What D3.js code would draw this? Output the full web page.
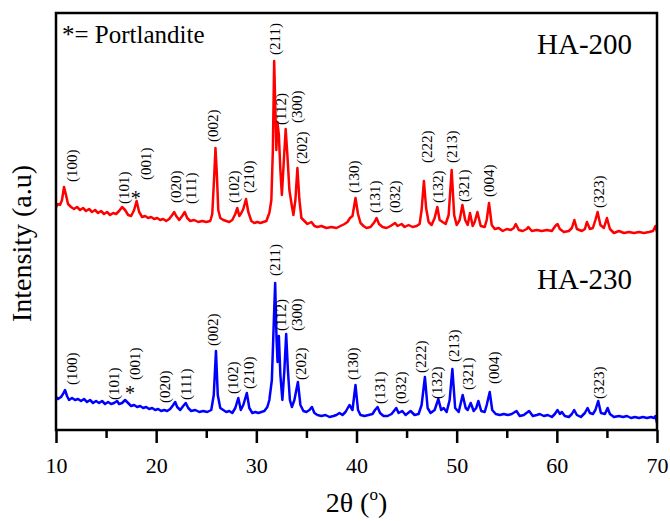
<!DOCTYPE html>
<html>
<head>
<meta charset="utf-8">
<script src="https://cdn.jsdelivr.net/npm/d3@7"></script>
<style>
  html, body { margin: 0; padding: 0; background: #fff; }
  svg { display: block; }
  text { font-family: "Liberation Serif", "Times New Roman", serif; fill: #000; }
</style>
</head>
<body>
<svg id="chart" width="670" height="521"></svg>
<script>
// ---------- data (2θ in degrees, intensity in a.u. on a common stacked scale) ----------
const redSeriesName = "HA-200";
const blueSeriesName = "HA-230";

const redData = [
  [10.0,223],[10.2,226],[10.4,225],[10.6,230],[10.8,243],[11.0,235],[11.2,226],[11.5,223],[11.8,221],
  [12.1,223],[12.4,220],[12.7,222],[13.0,219],[13.3,221],[13.6,218],[13.9,220],[14.2,217],[14.5,219],
  [14.8,216],[15.1,218],[15.4,215],[15.7,217],[16.0,216],[16.3,219],[16.6,223],[16.9,220],[17.2,215],
  [17.5,214],[17.8,220],[18.05,229],[18.3,218],[18.6,213],[18.9,214],[19.2,212],[19.5,213],[19.8,211],
  [20.1,212],[20.4,210],[20.7,211],[21.0,209],[21.3,211],[21.6,215],[21.8,218],[22.0,214],[22.3,210],
  [22.6,214],[22.85,218],[23.1,212],[23.4,209],[23.8,210],[24.2,208],[24.6,209],[25.0,208],[25.4,209],
  [25.6,216],[25.8,255],[25.92,282],[26.05,258],[26.2,220],[26.4,212],[26.7,210],[27.0,209],[27.3,208],
  [27.6,210],[27.9,216],[28.1,222],[28.3,214],[28.5,217],[28.7,221],[28.97,231],[29.2,218],[29.5,209],
  [29.8,207],[30.1,208],[30.4,207],[30.7,208],[31.0,209],[31.3,217],[31.5,230],[31.65,280],[31.78,369],
  [31.9,320],[32.0,280],[32.1,308],[32.25,295],[32.4,260],[32.55,235],[32.75,270],[32.93,301],[33.1,275],
  [33.3,240],[33.5,227],[33.7,215],[33.9,230],[34.1,262],[34.3,230],[34.5,212],[34.8,209],[35.1,206],
  [35.5,208],[35.8,204],[36.1,203],[36.5,204],[37.0,202],[37.5,203],[38.0,202],[38.4,204],[38.8,206],
  [39.1,208],[39.35,212],[39.6,214],[39.9,232],[40.15,216],[40.4,207],[40.7,204],[41.0,202],[41.4,203],
  [41.8,208],[42.0,212],[42.25,206],[42.6,203],[43.0,202],[43.4,204],[43.85,207],[44.1,204],[44.5,206],
  [44.8,203],[45.2,205],[45.6,203],[46.0,204],[46.3,206],[46.5,220],[46.73,249],[46.95,222],[47.2,208],
  [47.5,205],[47.8,212],[48.07,223],[48.3,210],[48.6,208],[48.9,206],[49.2,215],[49.5,260],[49.75,215],
  [50.0,205],[50.3,210],[50.57,225],[50.85,210],[51.1,205],[51.33,217],[51.6,204],[51.8,208],[52.07,218],
  [52.4,204],[52.8,203],[53.0,210],[53.23,227],[53.5,205],[53.8,201],[54.2,202],[54.6,199],[55.0,201],
  [55.4,200],[55.7,202],[55.9,206],[56.2,200],[56.6,199],[57.0,201],[57.15,203],[57.5,199],[58.0,200],
  [58.5,199],[59.0,200],[59.5,199],[59.85,204],[60.07,206],[60.3,201],[60.7,198],[61.2,199],[61.5,202],
  [61.75,210],[62.0,201],[62.5,199],[62.8,201],[63.0,208],[63.3,201],[63.6,202],[63.85,210],[64.07,218],
  [64.35,205],[64.7,202],[65.0,212],[65.3,201],[65.7,197],[66.2,199],[66.7,197],[67.2,198],[67.7,197],
  [68.2,198],[68.7,197],[69.2,198],[69.6,199],[69.85,204],[70.0,198]
];

const blueData = [
  [10.0,33],[10.2,31],[10.5,33],[10.7,36],[10.9,40],[11.1,34],[11.3,30],[11.6,32],[11.9,30],[12.2,31],
  [12.5,29],[12.8,31],[13.1,28],[13.4,30],[13.7,27],[14.0,29],[14.3,27],[14.6,29],[14.9,26],[15.2,28],
  [15.5,26],[15.8,27],[16.1,29],[16.3,26],[16.6,27],[16.9,30],[17.2,27],[17.5,24],[17.8,25],[18.1,23],
  [18.4,24],[18.7,22],[19.0,23],[19.3,21],[19.6,22],[19.9,20],[20.2,21],[20.5,19],[20.8,20],[21.1,19],
  [21.4,21],[21.7,25],[21.9,28],[22.1,23],[22.4,20],[22.7,24],[22.95,27],[23.2,22],[23.5,19],[23.9,20],
  [24.3,18],[24.7,19],[25.1,18],[25.5,20],[25.75,35],[25.97,79],[26.15,35],[26.4,22],[26.7,20],[27.0,18],
  [27.3,19],[27.6,17],[27.9,22],[28.2,32],[28.45,20],[28.7,25],[29.05,37],[29.3,22],[29.6,17],[29.9,18],
  [30.2,17],[30.5,18],[30.8,19],[31.1,23],[31.3,30],[31.55,50],[31.75,110],[31.88,147],[32.02,90],
  [32.12,68],[32.25,94],[32.4,55],[32.6,30],[32.8,60],[32.98,96],[33.15,60],[33.35,30],[33.55,23],
  [33.8,30],[34.15,48],[34.4,25],[34.7,19],[35.0,18],[35.3,20],[35.55,23],[35.8,17],[36.1,15],[36.5,14],
  [36.9,15],[37.3,13],[37.7,14],[38.0,15],[38.3,17],[38.6,15],[38.9,18],[39.3,25],[39.6,20],[39.9,45],
  [40.15,20],[40.4,15],[40.8,14],[41.2,15],[41.6,16],[41.85,20],[42.1,23],[42.35,17],[42.7,14],[43.1,14],
  [43.5,16],[43.97,22],[44.2,17],[44.57,19],[44.9,15],[45.4,19],[45.8,15],[46.2,16],[46.5,25],[46.83,53],
  [47.1,22],[47.4,17],[47.8,20],[48.17,31],[48.45,20],[48.7,22],[49.0,18],[49.3,30],[49.57,61],[49.85,22],
  [50.2,18],[50.6,35],[50.9,22],[51.1,20],[51.4,27],[51.7,19],[51.95,22],[52.17,29],[52.45,19],[52.8,18],
  [53.0,25],[53.3,38],[53.55,20],[53.9,16],[54.3,15],[54.7,16],[55.1,15],[55.5,16],[55.97,19],[56.3,14],
  [56.7,15],[57.23,19],[57.6,14],[58.0,15],[58.3,16],[58.7,14],[59.1,15],[59.5,13],[59.8,16],[60.07,20],
  [60.3,16],[60.5,18],[60.8,14],[61.2,13],[61.5,16],[61.73,20],[62.0,15],[62.4,13],[62.8,17],[63.07,22],
  [63.3,17],[63.6,16],[63.85,20],[64.13,29],[64.4,17],[64.8,16],[65.07,22],[65.3,16],[65.7,13],[66.2,14],
  [66.6,13],[67.0,14],[67.4,12],[67.8,13],[68.2,12],[68.6,13],[69.0,12],[69.4,13],[69.7,12],[69.85,14],[70.0,7]
];

// peak labels: [text, 2θ, intensity at label bottom]
const redLabels = [
  ["(100)",11.73,248],["(101)",16.9,226],["(001)",19.13,250],["(020)",22.07,227],["(111)",23.57,226],
  ["(002)",25.8,288],["(102)",27.9,227],["(210)",29.4,237],["(211)",31.97,375],["(112)",32.6,305],
  ["(300)",34.15,307],["(202)",34.65,266],["(130)",39.85,237],["(131)",42.0,217],["(032)",44.0,217],
  ["(222)",47.13,267],["(132)",48.23,227],["(213)",49.67,267],["(321)",50.83,228],["(004)",53.4,233],
  ["(323)",64.33,222]
];
const blueLabels = [
  ["(100)",11.73,45],["(101)",15.9,30],["(001)",18.0,50],["(020)",21.07,27],["(111)",23.07,30],
  ["(002)",25.8,84],["(102)",27.8,36],["(210)",29.4,41],["(211)",31.97,154],["(112)",32.57,99],
  ["(300)",34.2,99],["(202)",34.6,50],["(130)",39.8,50],["(131)",42.5,26],["(032)",44.57,26],
  ["(222)",46.57,57],["(132)",48.13,31],["(213)",49.83,68],["(321)",51.23,40],["(004)",53.85,46],
  ["(323)",64.33,31]
];
// Portlandite markers: [2θ, intensity at marker centre]
const redStars = [[17.97,235]];
const blueStars = [[17.4,40]];

const xDomain = [10, 70];
const yDomain = [0, 417];
const xMajorTicks = [10, 20, 30, 40, 50, 60, 70];
const xMinorTicks = [15, 25, 35, 45, 55, 65];
const xTitle = "2θ (";
const xTitleSup = "o";
const yTitle = "Intensity (a.u)";
const legendNote = "*= Portlandite";

// ---------- layout ----------
const svg = d3.select("#chart");
const M = { left: 56, right: 657, top: 13, bottom: 430 };

const x = d3.scaleLinear().domain(xDomain).range([M.left, M.right]);
const y = d3.scaleLinear().domain(yDomain).range([M.bottom, M.top]);

const line = d3.line().x(d => x(d[0])).y(d => y(d[1]));

// series
svg.append("path").datum(redData).attr("d", line)
  .attr("fill", "none").attr("stroke", "#ff0000").attr("stroke-width", 2.5).attr("stroke-linejoin", "round");
svg.append("path").datum(blueData).attr("d", line)
  .attr("fill", "none").attr("stroke", "#0000ff").attr("stroke-width", 2.5).attr("stroke-linejoin", "round");

// peak labels
function drawLabels(arr) {
  svg.append("g").selectAll("text").data(arr).join("text")
    .attr("transform", d => `translate(${x(d[1]) + 3.6},${y(d[2])}) rotate(-90)`)
    .attr("font-size", 15)
    .attr("text-anchor", "start")
    .text(d => d[0]);
}
drawLabels(redLabels);
drawLabels(blueLabels);

function drawStars(arr) {
  svg.append("g").selectAll("text").data(arr).join("text")
    .attr("x", d => x(d[0]))
    .attr("y", d => y(d[1]) + 10)
    .attr("font-size", 20)
    .attr("text-anchor", "middle")
    .text("*");
}
drawStars(redStars);
drawStars(blueStars);

// frame
svg.append("rect")
  .attr("x", M.left).attr("y", M.top)
  .attr("width", M.right - M.left).attr("height", M.bottom - M.top)
  .attr("fill", "none").attr("stroke", "#000").attr("stroke-width", 2.5);

// x axis
const axisG = svg.append("g").attr("transform", `translate(0,${M.bottom})`);
const major = d3.axisBottom(x).tickValues(xMajorTicks).tickSize(13).tickPadding(14).tickFormat(d3.format("d"));
axisG.call(major);
const minor = d3.axisBottom(x).tickValues(xMinorTicks).tickSize(8).tickFormat("");
const minorG = svg.append("g").attr("transform", `translate(0,${M.bottom})`).call(minor);
[axisG, minorG].forEach(g => {
  g.select(".domain").remove();
  g.selectAll(".tick line").attr("stroke", "#000").attr("stroke-width", 2.5);
});
axisG.selectAll(".tick text")
  .attr("font-family", "Liberation Serif, Times New Roman, serif")
  .attr("font-size", 22).attr("fill", "#000");

// axis titles
const xt = svg.append("text")
  .attr("x", (M.left + M.right) / 2).attr("y", 512)
  .attr("text-anchor", "middle").attr("font-size", 28);
xt.append("tspan").text(xTitle);
xt.append("tspan").attr("font-size", 17).attr("dy", -12).text(xTitleSup);
xt.append("tspan").attr("dy", 12).text(")");

svg.append("text")
  .attr("transform", `translate(31,${(M.top + M.bottom) / 2 + 22}) rotate(-90)`)
  .attr("text-anchor", "middle").attr("font-size", 28)
  .text(yTitle);

// notes
svg.append("text").attr("x", 62).attr("y", 43).attr("font-size", 25).text(legendNote);
svg.append("text").attr("x", 537).attr("y", 54).attr("font-size", 29).text(redSeriesName);
svg.append("text").attr("x", 537).attr("y", 289).attr("font-size", 29).text(blueSeriesName);
</script>
</body>
</html>
